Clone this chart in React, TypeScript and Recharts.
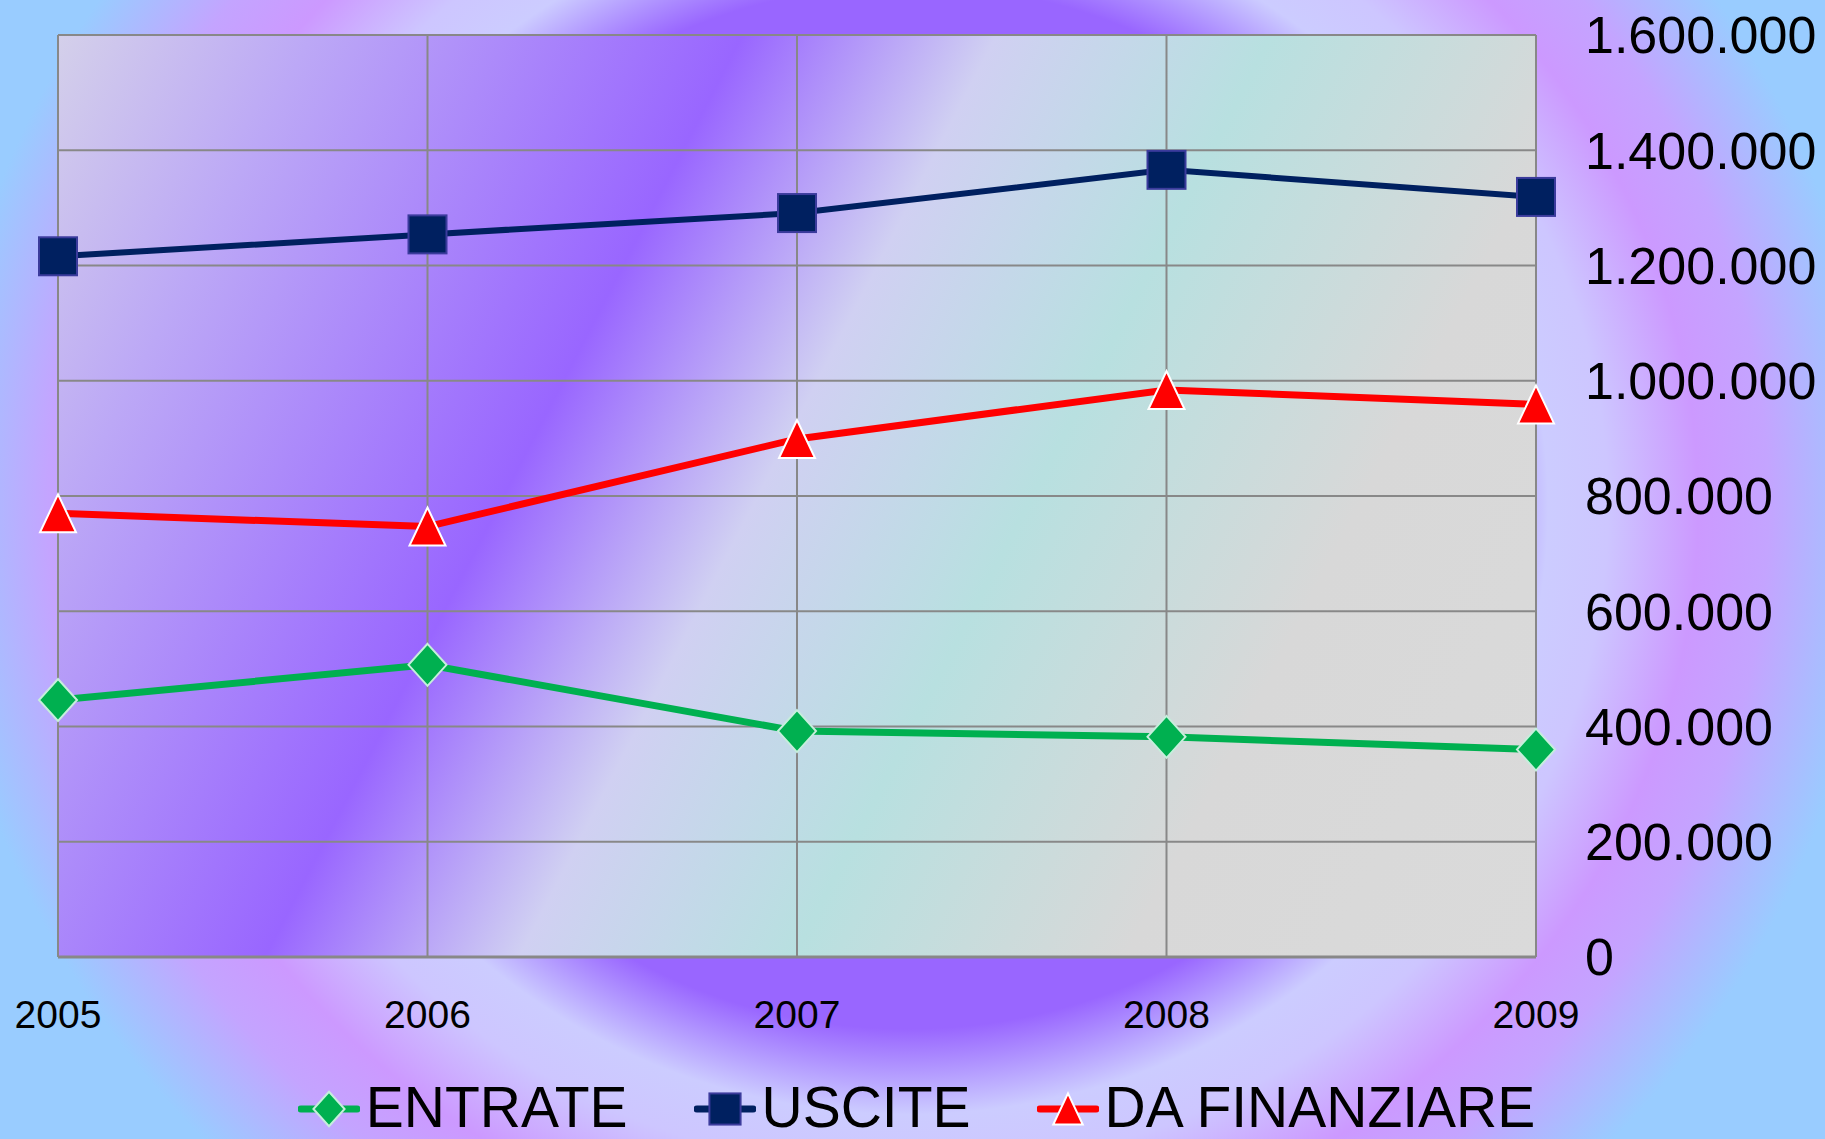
import React from "react";
import {
  LineChart,
  Line,
  XAxis,
  YAxis,
  CartesianGrid,
  Legend,
} from "recharts";

const years = ["2005", "2006", "2007", "2008", "2009"];
const entrate = [446000, 507000, 392000, 382000, 360000];
const uscite = [1216000, 1254000, 1291000, 1366000, 1319000];
const daFinanziare = [770000, 747000, 899000, 984000, 959000];
const yTicks = [0, 200000, 400000, 600000, 800000, 1000000, 1200000, 1400000, 1600000];

const data = years.map((year, i) => ({
  year,
  entrate: entrate[i],
  uscite: uscite[i],
  daFinanziare: daFinanziare[i],
}));

const FONT = "'Liberation Sans', Arial, sans-serif";

type Marker = "diamond" | "square" | "triangle";

const series: { key: string; name: string; color: string; marker: Marker; width: number }[] = [
  { key: "entrate", name: "ENTRATE", color: "#00b050", marker: "diamond", width: 7 },
  { key: "uscite", name: "USCITE", color: "#002060", marker: "square", width: 6 },
  { key: "daFinanziare", name: "DA FINANZIARE", color: "#ff0000", marker: "triangle", width: 7 },
];

// dots point format: 1.600.000
const fmt = (v: number) => String(v).replace(/\B(?=(\d{3})+(?!\d))/g, ".");

function MarkerShape({ kind, cx, cy, s = 1 }: { kind: Marker; cx: number; cy: number; s?: number }) {
  if (kind === "square") {
    return (
      <rect
        x={cx - 19 * s}
        y={cy - 19 * s}
        width={38 * s}
        height={38 * s}
        fill="#002060"
        stroke="#3b3b9c"
        strokeWidth={2}
      />
    );
  }
  if (kind === "diamond") {
    const w = 19 * s;
    const h = 21 * s;
    return (
      <path
        d={`M${cx},${cy - h}L${cx + w},${cy}L${cx},${cy + h}L${cx - w},${cy}Z`}
        fill="#00b050"
        stroke="#c6eedc"
        strokeWidth={2}
      />
    );
  }
  const w = 18 * s;
  const h = 19 * s;
  return (
    <path
      d={`M${cx},${cy - h}L${cx + w},${cy + h}L${cx - w},${cy + h}Z`}
      fill="#ff0000"
      stroke="#ffffff"
      strokeWidth={2}
    />
  );
}

const makeDot = (kind: Marker) => (props: any) => {
  const { cx, cy, index } = props;
  if (cx == null || cy == null) return <g key={`d-${kind}-${index}`} />;
  return (
    <g key={`d-${kind}-${index}`}>
      <MarkerShape kind={kind} cx={cx} cy={cy} />
    </g>
  );
};

function LegendContent(props: any) {
  const payload = [...(props.payload || [])].sort(
    (a: any, b: any) =>
      series.findIndex((x) => x.key === a.dataKey) - series.findIndex((x) => x.key === b.dataKey)
  );
  return (
    <div
      style={{
        display: "flex",
        justifyContent: "center",
        alignItems: "center",
        width: 1825,
        height: 64,
        lineHeight: "64px",
        fontFamily: FONT,
        fontSize: 57,
        color: "#000",
        transform: "translate(4px, 0px)",
      }}
    >
      {payload.map((entry: any, i: number) => {
        const s = series.find((x) => x.key === entry.dataKey) || series[0];
        return (
          <div
            key={s.key}
            style={{ display: "flex", alignItems: "center", marginLeft: i === 0 ? 0 : 66 }}
          >
            <svg width={62} height={64} style={{ marginRight: 6 }}>
              <line x1={3} y1={34} x2={59} y2={34} stroke={s.color} strokeWidth={7} strokeLinecap="round" />
              <MarkerShape kind={s.marker} cx={31} cy={34} s={0.82} />
            </svg>
            <span style={{ whiteSpace: "nowrap" }}>{s.name}</span>
          </div>
        );
      })}
    </div>
  );
}

export default function App() {
  return (
    <div
      style={{
        position: "absolute",
        left: 0,
        top: 0,
        width: 1825,
        height: 1139,
        background:
          "radial-gradient(ellipse 1000px 949px at 908px 507px, #9966ff 0%, #9966ff 55%, #ccccff 64%, #cdc6ff 70%, #cc99ff 79%, #c4a4ff 86%, #99ccff 97%)",
      }}
    >
      <LineChart
        width={1825}
        height={1139}
        data={data}
        margin={{ top: 35, right: 0, left: 58, bottom: 0 }}
      >
        <defs>
          <linearGradient id="plotBg" gradientUnits="userSpaceOnUse" x1={58} y1={35} x2={1600} y2={834}>
            <stop offset="0" stopColor="#d4d0ea" />
            <stop offset="0.13" stopColor="#bca8f6" />
            <stop offset="0.35" stopColor="#9966ff" />
            <stop offset="0.48" stopColor="#d0d0f2" />
            <stop offset="0.62" stopColor="#b8e0e0" />
            <stop offset="0.79" stopColor="#d8d8d8" />
            <stop offset="1" stopColor="#dadada" />
          </linearGradient>
        </defs>
        <CartesianGrid fill="url(#plotBg)" stroke="#888888" strokeWidth={2} />
        <XAxis
          dataKey="year"
          height={118}
          tickSize={0}
          tickMargin={43}
          axisLine={{ stroke: "#888888", strokeWidth: 3 }}
          tickLine={false}
          tick={{ fill: "#000", fontSize: 39, fontFamily: FONT }}
        />
        <YAxis
          orientation="right"
          width={289}
          domain={[0, 1600000]}
          ticks={yTicks}
          tickFormatter={fmt}
          tickSize={0}
          tickMargin={49}
          axisLine={false}
          tickLine={false}
          tick={{ fill: "#000", fontSize: 52, fontFamily: FONT, textAnchor: "start" }}
        />
        <Legend
          verticalAlign="bottom"
          content={<LegendContent />}
          wrapperStyle={{ left: 0, bottom: 0, width: 1825, height: 64 }}
        />
        {series.map((s) => (
          <Line
            key={s.key}
            type="linear"
            dataKey={s.key}
            name={s.name}
            stroke={s.color}
            strokeWidth={s.width}
            dot={makeDot(s.marker)}
            activeDot={false}
            isAnimationActive={false}
          />
        ))}
      </LineChart>
    </div>
  );
}
